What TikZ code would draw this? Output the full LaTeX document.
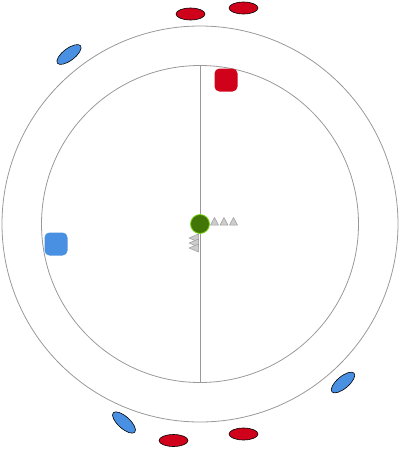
\documentclass[tikz,border=0pt]{standalone}
\usetikzlibrary{shapes.geometric}
\definecolor{ringgray}{HTML}{999999}
\definecolor{redfill}{HTML}{D0021B}
\definecolor{bluefill}{HTML}{4A90E2}
\definecolor{greenfill}{HTML}{417505}
\definecolor{greenline}{HTML}{7ED321}
\definecolor{trifill}{HTML}{CCCCCC}
\begin{document}
\begin{tikzpicture}[x=1pt,y=-1pt,
  ring/.style={draw=ringgray,line width=0.8pt},
  redell/.style={ellipse,draw=black,line width=0.6pt,fill=redfill,minimum width=29pt,minimum height=12pt,inner sep=0pt},
  blueell/.style={ellipse,draw=black,line width=0.6pt,fill=bluefill,minimum width=29pt,minimum height=12pt,inner sep=0pt},
  sq/.style={rectangle,rounded corners=5pt,minimum width=23pt,minimum height=23pt,inner sep=0pt},
  hub/.style={circle,fill=greenfill,draw=greenline,line width=0.8pt,minimum size=19pt,inner sep=0pt},
  tri/.style={fill=trifill,draw=ringgray,line width=0.5pt,line join=round}
]
\useasboundingbox (0,0) rectangle (400,450);
% rings
\draw[ring] (200,224) circle[radius=198];
\draw[ring] (200,224) circle[radius=158.5];
% vertical axis
\coordinate (ax1) at (200,65.5);
\coordinate (ax2) at (200,382.5);
\draw[ring] (ax1) -- (ax2);
% rounded squares
\node[sq,fill=redfill] (rsq) at (226,80) {};
\node[sq,fill=bluefill] (bsq) at (56,244) {};
% left-pointing stacked triangles
\foreach \yy in {238,243,248}{
  \draw[tri] (198.5,\yy-4) -- (189,\yy) -- (198.5,\yy+4) -- cycle;
}
% hub
\node[hub] (hub) at (200,224) {};
% up-pointing triangles
\foreach \xx in {214.5,224,233.5}{
  \draw[tri] (\xx-4,225) -- (\xx,217.5) -- (\xx+4,225) -- cycle;
}
% ellipses
\node[redell] (e1) at (190.5,14) {};
\node[redell] (e2) at (243.5,8) {};
\node[redell] (e3) at (173.5,440.5) {};
\node[redell] (e4) at (243.5,434) {};
\node[blueell,rotate=37] (e5) at (69,54.5) {};
\node[blueell,rotate=40] (e6) at (343,382.5) {};
\node[blueell,rotate=-42] (e7) at (124,422.5) {};
\end{tikzpicture}
\end{document}
